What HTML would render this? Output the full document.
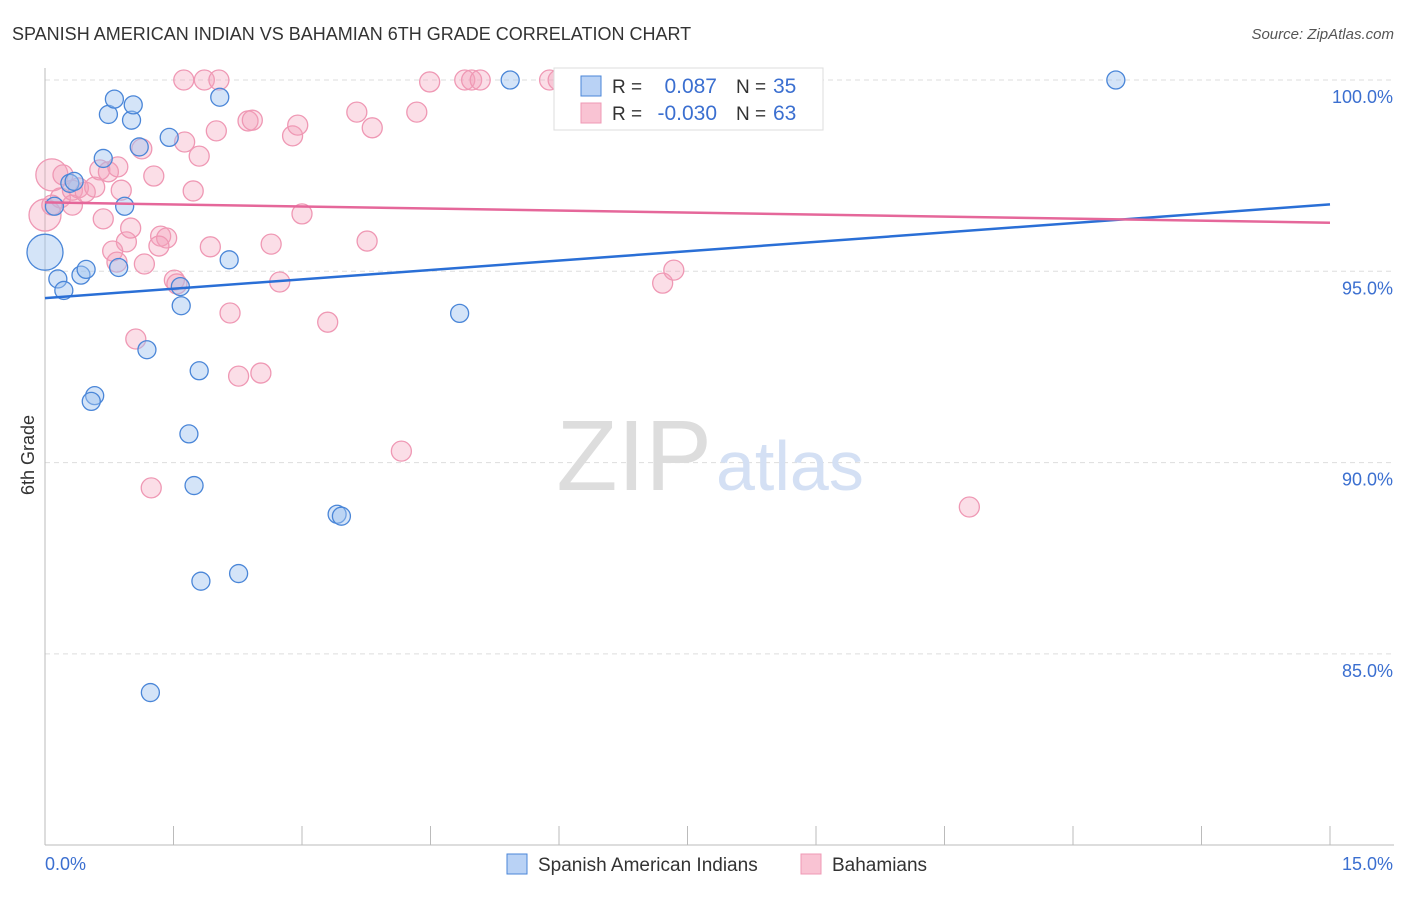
<!DOCTYPE html>
<html><head><meta charset="utf-8"><style>
body{margin:0;background:#fff;font-family:"Liberation Sans",sans-serif}
svg text{font-family:"Liberation Sans",sans-serif}
</style></head><body>
<svg id="c" width="1406" height="892"></svg>
<script>
const blueX=[0,0.11,0.15,0.22,0.42,0.48,0.29,0.34,0.68,0.74,0.81,1.01,1.03,1.10,0.93,0.86,1.45,1.58,1.59,1.19,1.80,0.58,0.54,1.68,1.74,1.82,2.26,1.23,2.04,2.15,3.41,3.46,4.84,5.43,12.5];
const blueY=[95.5,96.7,94.8,94.5,94.9,95.05,97.3,97.35,97.95,99.1,99.5,98.95,99.35,98.25,96.7,95.1,98.5,94.6,94.1,92.95,92.4,91.75,91.6,90.75,89.4,86.9,87.1,83.99,99.55,95.3,88.65,88.6,93.9,100,100];
const pinkX=[0,0.08,0.18,0.21,0.32,0.32,0.39,0.47,0.58,0.64,0.74,0.85,0.89,0.68,0.95,1.00,0.79,0.84,1.13,1.27,1.62,1.86,2.03,1.35,1.42,1.33,1.16,1.51,1.54,1.63,1.73,1.80,1.93,2.00,2.16,2.26,2.52,2.37,2.42,2.64,2.74,2.89,2.95,3.00,3.30,3.64,3.76,3.82,4.16,4.34,4.49,4.90,4.98,5.08,5.89,5.99,7.21,7.34,7.48,10.79,1.06,1.24,0.08];
const pinkY=[96.47,97.52,96.92,97.52,97.12,96.73,97.18,97.07,97.20,97.65,97.60,97.73,97.12,96.37,95.77,96.13,95.53,95.24,98.20,97.49,100,100,100,95.92,95.87,95.66,95.19,94.77,94.67,98.38,97.10,98.01,95.64,98.67,93.91,92.26,92.34,98.93,98.95,95.71,94.72,98.54,98.82,96.50,93.67,99.16,95.79,98.75,90.30,99.16,99.95,100,100,100,100,100,94.69,95.03,100,88.84,93.23,89.34,96.73];
const xTicks=[0,15];
const yTicks=[85,90,95,100];
const blueTrend=[94.3,96.75];
const pinkTrend=[96.8,96.27];
const X=v=>45+v/15*1285, Y=v=>80+(100-v)*38.26;
const s=document.getElementById('c');const NS='http://www.w3.org/2000/svg';
function E(t,a,p){const e=document.createElementNS(NS,t);for(const k in a)e.setAttribute(k,a[k]);(p||s).appendChild(e);return e;}
let t=E('text',{x:12,y:40,'font-size':18,fill:'#333'});t.textContent='SPANISH AMERICAN INDIAN VS BAHAMIAN 6TH GRADE CORRELATION CHART';

t=E('text',{x:1394,y:39,'font-size':15,fill:'#555','text-anchor':'end','font-style':'italic'});t.textContent='Source: ZipAtlas.com';

yTicks.forEach(v=>{const l=E('line',{x1:45,x2:1394,y1:Y(v),y2:Y(v),stroke:'#ddd','stroke-dasharray':'5,4'});

const tx=E('text',{x:1393,y:Y(v)+23,'font-size':18,fill:'#3b6fd0','text-anchor':'end'});tx.textContent=v.toFixed(1)+'%';
});
let a=E('line',{x1:45,x2:45,y1:68,y2:845,stroke:'#bbb'});
a=E('line',{x1:45,x2:1394,y1:845,y2:845,stroke:'#bbb'});
for(let i=0;i<=10;i++){const l=E('line',{x1:X(i*1.5),x2:X(i*1.5),y1:826,y2:845,stroke:'#bbb'});}
xTicks.forEach(v=>{const tx=E('text',{x:X(v)+(v==0?0:63),y:870,'font-size':18,fill:'#3b6fd0','text-anchor':v==0?'start':'end'});tx.textContent=v.toFixed(1)+'%';
});
t=E('text',{x:0,y:0,'font-size':18,fill:'#333','text-anchor':'middle',transform:'translate(34,455) rotate(-90)'});t.textContent='6th Grade';

t=E('text',{x:712,y:490,'font-size':100,fill:'#ddd','text-anchor':'end','font-family':'Liberation Serif'});t.textContent='ZIP';

t=E('text',{x:716,y:490,'font-size':70,fill:'#d4e0f4'});t.textContent='atlas';

pinkX.forEach((v,i)=>{const r=(i<2)?16:10;const c=E('circle',{cx:X(v),cy:Y(pinkY[i]),r:r,fill:'rgba(244,160,185,0.35)',stroke:'#ef98b4','stroke-width':1.3});
});
blueX.forEach((v,i)=>{const r=i==0?18:9;const c=E('circle',{cx:X(v),cy:Y(blueY[i]),r:r,fill:'rgba(160,195,240,0.45)',stroke:'#4a86d8','stroke-width':1.3});
});
a=E('line',{x1:X(0),x2:X(15),y1:Y(blueTrend[0]),y2:Y(blueTrend[1]),stroke:'#2a6fd6','stroke-width':2.5});
a=E('line',{x1:X(0),x2:X(15),y1:Y(pinkTrend[0]),y2:Y(pinkTrend[1]),stroke:'#e5679a','stroke-width':2.5});
const g=E('g',{});
E('rect',{x:554,y:68,width:269,height:62,fill:'#fff',stroke:'#ddd'},g);
[[0,'#b9d2f5','#4a86d8','0.087','35'],[1,'#f9c3d3','#ef98b4','-0.030','63']].forEach(([i,f,st,r,n])=>{
const y=86+i*27;E('rect',{x:581,y:y-10,width:20,height:20,fill:f,stroke:st},g);
let q=E('text',{x:612,y:y+7,'font-size':19,fill:'#333'},g);q.textContent='R =';
q=E('text',{x:717,y:y+7,'font-size':21,fill:'#3b6fd0','text-anchor':'end'},g);q.textContent=r;
q=E('text',{x:736,y:y+7,'font-size':19,fill:'#333'},g);q.textContent='N =';
q=E('text',{x:773,y:y+7,'font-size':21,fill:'#3b6fd0'},g);q.textContent=n;});
[[507,'#b9d2f5','#4a86d8','Spanish American Indians'],[801,'#f9c3d3','#ef98b4','Bahamians']].forEach(([x,f,st,l])=>{
const r=E('rect',{x:x,y:854,width:20,height:20,fill:f,stroke:st});
const q=E('text',{x:x+31,y:871,'font-size':19,fill:'#333'});q.textContent=l;});
</script></body></html>
